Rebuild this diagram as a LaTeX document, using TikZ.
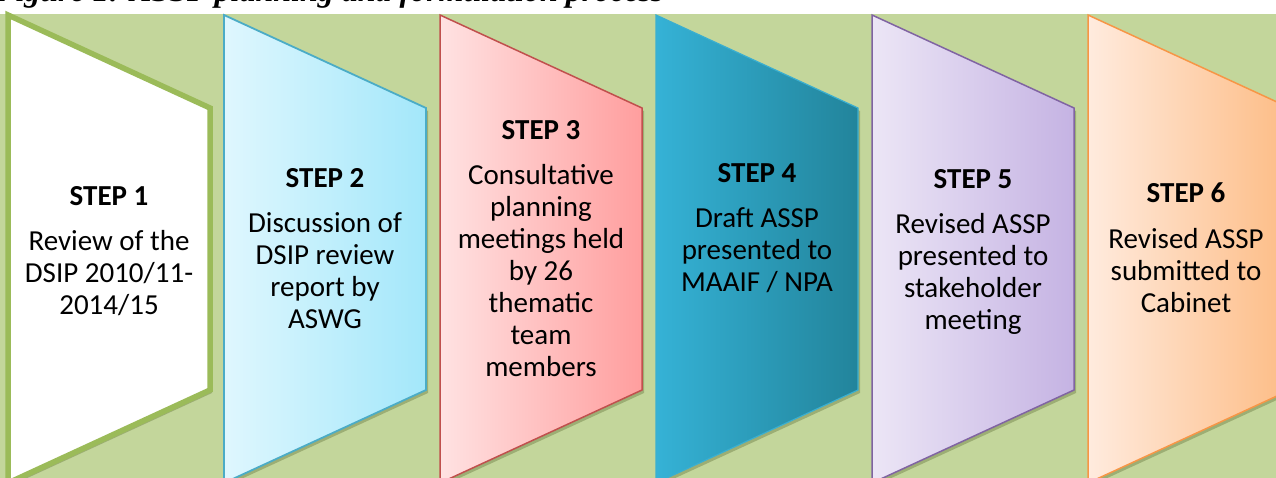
\documentclass[tikz,border=0pt]{standalone}
\usepackage{fontspec}
\setmainfont{Carlito}
\newfontfamily\capfont{Liberation Serif}
\usetikzlibrary{shadows}
\definecolor{bggreen}{HTML}{C3D69B}
\definecolor{ogreen}{HTML}{9BBB59}
\definecolor{oblue}{HTML}{4BACC6}
\definecolor{ored}{HTML}{C0504D}
\definecolor{oteal}{HTML}{3AAFD0}
\definecolor{opurple}{HTML}{8064A2}
\definecolor{oorange}{HTML}{F79646}
\definecolor{bluel}{HTML}{DFF7FE}
\definecolor{bluer}{HTML}{A3E7FA}
\definecolor{redl}{HTML}{FFE2E2}
\definecolor{redr}{HTML}{FF9E9E}
\definecolor{teall}{HTML}{35B2D6}
\definecolor{tealr}{HTML}{22849B}
\definecolor{purl}{HTML}{ECE6F6}
\definecolor{purr}{HTML}{C5B3E3}
\definecolor{orl}{HTML}{FFEBDE}
\definecolor{orr}{HTML}{FDBC85}
\definecolor{shadowgreen}{HTML}{6E7F45}
\newcommand{\stepshape}[2]{\path[#2] (#1,15) -- ++(202,93) -- ++(0,282) -- ++(-202,93) -- cycle;}
\tikzset{
  stepbox/.style={line join=miter, drop shadow={shadow xshift=2pt, shadow yshift=-3pt, opacity=0.45, fill=shadowgreen}},
  steptext/.style={align=center, font=\fontsize{29}{32}\selectfont, anchor=base, inner sep=0pt, text=black},
}
\begin{document}
\begin{tikzpicture}[x=1pt,y=-1pt]
\useasboundingbox (0,0) rectangle (1276,478);
\begin{scope}
\clip (0,0) rectangle (1276,478);
\fill[white] (0,0) rectangle (1276,478);
\node[font=\capfont\bfseries\itshape\fontsize{32}{36}\selectfont, anchor=base west, inner sep=0pt] (cap) at (-6,1.5) {Figure 1: ASSP planning and formulation process};
\fill[bggreen] (0,14) rectangle (1276,478);
\stepshape{8}{stepbox, fill=white, draw=ogreen, line width=5.5pt}
\stepshape{224}{stepbox, left color=bluel, right color=bluer, draw=oblue, line width=1.8pt}
\stepshape{440}{stepbox, left color=redl, right color=redr, draw=ored, line width=1.5pt}
\stepshape{656}{stepbox, left color=teall, right color=tealr, draw=oteal, line width=1.2pt}
\stepshape{872}{stepbox, left color=purl, right color=purr, draw=opurple, line width=1.5pt}
\stepshape{1088}{stepbox, left color=orl, right color=orr, draw=oorange, line width=1.5pt}
\end{scope}
\node[steptext] (s1) at (109,314) {\textbf{STEP 1}\\[13pt]Review of the\\DSIP 2010/11-\\2014/15};
\node[steptext] (s2) at (325,328) {\textbf{STEP 2}\\[13pt]Discussion of\\DSIP review\\report by\\ASWG};
\node[steptext] (s3) at (541,376) {\textbf{STEP 3}\\[13pt]Consultative\\planning\\meetings held\\by 26\\thematic\\team\\members};
\node[steptext] (s4) at (757,291) {\textbf{STEP 4}\\[13pt]Draft ASSP\\presented to\\MAAIF / NPA};
\node[steptext] (s5) at (973,329) {\textbf{STEP 5}\\[13pt]Revised ASSP\\presented to\\stakeholder\\meeting};
\node[steptext] (s6) at (1186,312) {\textbf{STEP 6}\\[13pt]Revised ASSP\\submitted to\\Cabinet};
\end{tikzpicture}
\end{document}
